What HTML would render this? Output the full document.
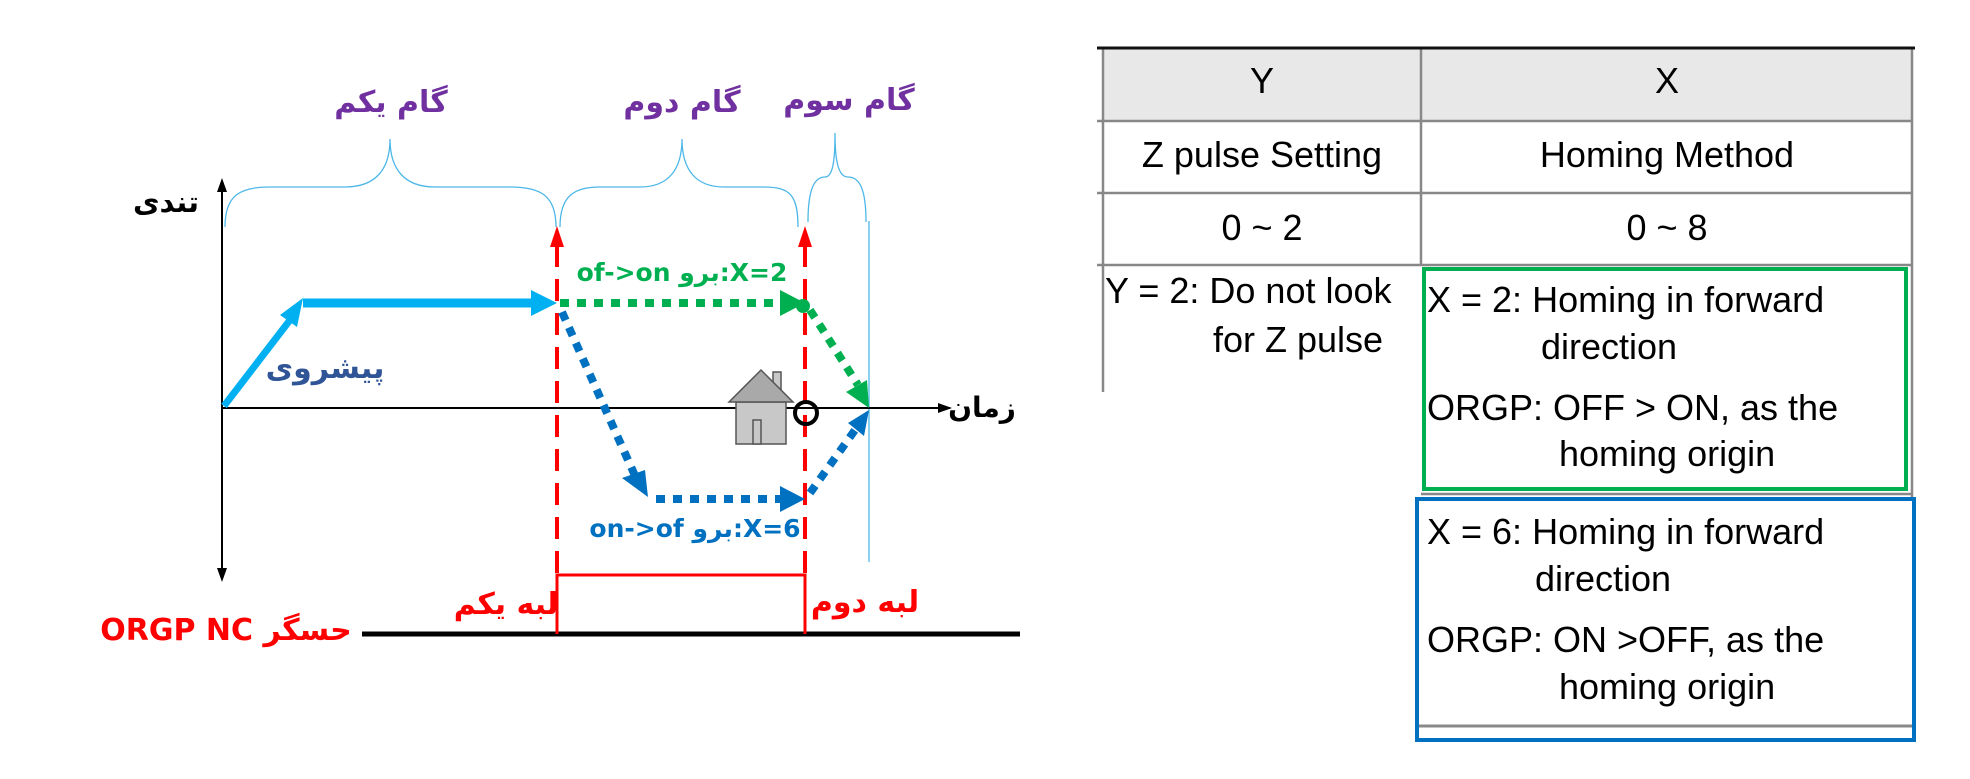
<!DOCTYPE html>
<html><head><meta charset="utf-8"><style>
html,body{margin:0;padding:0;background:#fff;width:1970px;height:779px;overflow:hidden}
svg{display:block}
.ar{font-family:"DejaVu Sans",sans-serif;font-weight:bold}
.t{font-family:"Liberation Sans",Arial,sans-serif;font-size:36px;fill:#000}
</style></head><body>
<svg width="1970" height="779" viewBox="0 0 1970 779" xmlns="http://www.w3.org/2000/svg">
<!-- brackets -->
<g fill="none" stroke="#4db8e8" stroke-width="1.3">
<path d="M225,227 C225,195 240,187 270,187 L345,187 C375,187 390,170 390,139 C390,170 405,187 435,187 L510,187 C540,187 556,195 556,227"/>
<path d="M560,227 C560,195 575,187 600,187 L640,187 C668,187 682,170 682,139 C682,170 696,187 724,187 L764,187 C790,187 798,195 798,227"/>
<path d="M808,222 C808,190 814,177 825,177 C833,177 835,160 835,133 C835,160 838,177 848,177 C860,177 866,190 866,222"/>
<line x1="869" y1="221" x2="869" y2="562"/>
</g>
<!-- axes -->
<line x1="222" y1="190" x2="222" y2="570" stroke="#000" stroke-width="2"/>
<path d="M222,178 L217,192 L227,192z M222,582 L217,568 L227,568z" fill="#000"/>
<line x1="222" y1="408" x2="950" y2="408" stroke="#000" stroke-width="2"/>
<path d="M952,408 L938,403 L938,413z" fill="#000"/>
<!-- ground -->
<line x1="362" y1="634" x2="1020" y2="634" stroke="#000" stroke-width="5"/>
<!-- red -->
<g stroke="#ff0000" stroke-width="4" fill="none">
<line x1="557" y1="245" x2="557" y2="575" stroke-dasharray="22,12"/>
<line x1="805" y1="245" x2="805" y2="575" stroke-dasharray="22,12"/>
<polyline points="557,634 557,575 805,575 805,634" stroke-width="3"/>
</g>
<path d="M557,226 L550,247 L564,247z M805,226 L798,247 L812,247z" fill="#ff0000"/>
<!-- cyan -->
<g stroke="#00b0f0" stroke-width="7" fill="none">
<line x1="224" y1="406" x2="290" y2="320"/>
<line x1="303" y1="303" x2="535" y2="303" stroke-width="9"/>
</g>
<path d="M303,298 L280,315 L297,327z M557,303 L531,290 L531,316z" fill="#00b0f0"/>
<!-- green dotted -->
<g stroke="#00b050" stroke-width="8" fill="none" stroke-dasharray="9,8">
<line x1="560" y1="303" x2="780" y2="303"/>
<line x1="810" y1="310" x2="858" y2="385"/>
</g>
<path d="M805,303 L780,290 L780,316z M869,408 L867,380 L846,392z" fill="#00b050"/>
<circle cx="803" cy="306" r="7" fill="#00b050"/>
<!-- blue dotted -->
<g stroke="#0070c0" stroke-width="8" fill="none" stroke-dasharray="9,8">
<line x1="562" y1="312" x2="636" y2="478"/>
<line x1="656" y1="499" x2="782" y2="499"/>
<line x1="810" y1="493" x2="855" y2="430"/>
</g>
<path d="M648,497 L622,478 L645,470z M805,499 L780,486 L780,512z M869,410 L848,423 L864,436z" fill="#0070c0"/>
<!-- house -->
<g stroke="#555" stroke-width="1.5">
<rect x="736" y="402" width="50" height="42" fill="#c8c8c8"/>
<rect x="753" y="420" width="8" height="24" fill="#c8c8c8"/>
<rect x="773" y="372" width="8" height="18" fill="#c8c8c8"/>
<path d="M729,402 L761,370 L793,402z" fill="#a9a9a9"/>
</g>
<circle cx="806" cy="413" r="11" fill="none" stroke="#000" stroke-width="4"/>
<!-- arabic labels -->
<g class="ar" text-anchor="middle">
<text x="391" y="112" font-size="30" fill="#7030a0">گام یکم</text>
<text x="682" y="112" font-size="30" fill="#7030a0">گام دوم</text>
<text x="849" y="110" font-size="30" fill="#7030a0">گام سوم</text>
<text x="166" y="212" font-size="29" fill="#000">تندی</text>
<text x="325" y="378" font-size="30" fill="#2f5597">پیشروی</text>
<text x="982" y="417" font-size="28" fill="#000">زمان</text>
<text x="682" y="281" font-size="25" fill="#00b050" direction="ltr">of-&gt;on برو:X=2</text>
<text x="695" y="537" font-size="25" fill="#0070c0" direction="ltr">on-&gt;of برو:X=6</text>
<text x="506" y="614" font-size="30" fill="#ff0000">لبه یکم</text>
<text x="865" y="612" font-size="30" fill="#ff0000">لبه دوم</text>
<text x="226" y="640" font-size="30" fill="#ff0000" direction="ltr">ORGP NC حسگر</text>
</g>
<!-- table -->
<rect x="1103" y="48" width="809" height="73" fill="#e8e8e8"/>
<g stroke="#888" stroke-width="2.5" fill="none">
<line x1="1097" y1="121" x2="1912" y2="121"/>
<line x1="1097" y1="193" x2="1912" y2="193"/>
<line x1="1097" y1="265" x2="1912" y2="265"/>
<line x1="1103" y1="48" x2="1103" y2="392"/>
<line x1="1421" y1="48" x2="1421" y2="265"/>
<line x1="1912" y1="48" x2="1912" y2="499"/>
<line x1="1421" y1="494" x2="1912" y2="494"/>
<line x1="1419" y1="726" x2="1912" y2="726" stroke-width="3"/>
</g>
<line x1="1097" y1="48" x2="1915" y2="48" stroke="#111" stroke-width="3"/>
<rect x="1424" y="269" width="482" height="220" fill="none" stroke="#00b050" stroke-width="4"/>
<rect x="1417" y="499" width="497" height="241" fill="none" stroke="#0070c0" stroke-width="4"/>
<g class="t" text-anchor="middle">
<text x="1262" y="93">Y</text>
<text x="1667" y="93">X</text>
<text x="1262" y="167">Z pulse Setting</text>
<text x="1667" y="167">Homing Method</text>
<text x="1262" y="240">0 ~ 2</text>
<text x="1667" y="240">0 ~ 8</text>
</g>
<g class="t">
<text x="1105" y="303">Y = 2: Do not look</text>
<text x="1213" y="352">for Z pulse</text>
<text x="1427" y="312">X = 2: Homing in forward</text>
<text x="1541" y="359">direction</text>
<text x="1427" y="420">ORGP: OFF &gt; ON, as the</text>
<text x="1559" y="466">homing origin</text>
<text x="1427" y="544">X = 6: Homing in forward</text>
<text x="1535" y="591">direction</text>
<text x="1427" y="652">ORGP: ON &gt;OFF, as the</text>
<text x="1559" y="699">homing origin</text>
</g>
</svg>
</body></html>
